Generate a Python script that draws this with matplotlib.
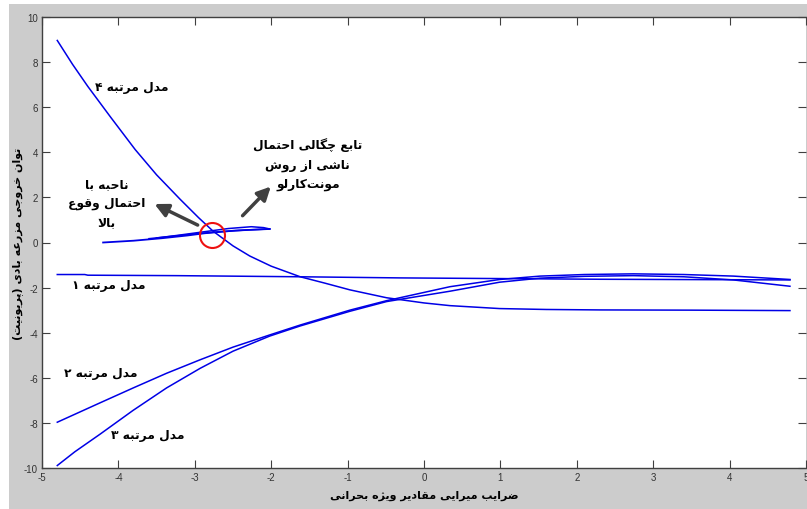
import matplotlib
matplotlib.use("Agg")
import matplotlib.pyplot as plt
from matplotlib.patches import Rectangle

plt.rcParams['axes.unicode_minus'] = False

# ---- data ----
m4_x = [-4.80, -4.60, -4.40, -4.10, -3.78, -3.50, -3.19, -2.95, -2.76, -2.50, -2.28, -2.00,
        -1.62, -1.30, -0.97, -0.49, 0.00, 0.34, 0.99, 1.60, 2.30, 3.50, 4.79]
m4_y = [8.96, 7.90, 6.92, 5.55, 4.12, 3.00, 1.91, 1.10, 0.50, -0.15, -0.60, -1.05,
        -1.52, -1.80, -2.10, -2.45, -2.68, -2.80, -2.93, -2.97, -2.99, -3.00, -3.02]

m1_x = [-4.80, -4.44, -4.40, -3.23, -1.62, -0.31, 2.30, 4.79]
m1_y = [-1.42, -1.42, -1.45, -1.47, -1.52, -1.57, -1.63, -1.66]

m2_x = [-4.80, -4.24, -3.80, -3.37, -2.93, -2.50, -2.02, -1.62, -0.97, -0.49, 0.34, 0.99,
        1.52, 2.10, 2.74, 3.40, 4.05, 4.79]
m2_y = [-7.97, -7.11, -6.44, -5.80, -5.20, -4.64, -4.10, -3.66, -3.00, -2.58, -1.96, -1.64,
        -1.49, -1.42, -1.39, -1.42, -1.49, -1.64]

m3_x = [-4.80, -4.57, -4.24, -3.81, -3.37, -2.93, -2.50, -2.02, -1.62, -0.97, -0.49, 0.34,
        0.99, 1.52, 2.10, 2.74, 3.40, 4.05, 4.79]
m3_y = [-9.89, -9.28, -8.50, -7.45, -6.45, -5.58, -4.82, -4.15, -3.70, -3.05, -2.62, -2.16,
        -1.76, -1.58, -1.50, -1.47, -1.52, -1.66, -1.94]

# Monte Carlo density lens
pdf1_x = [-4.20, -3.80, -3.43, -3.10, -2.87, -2.47, -2.02]
pdf1_y = [0.00, 0.08, 0.19, 0.31, 0.41, 0.53, 0.60]
pdf2_x = [-3.50, -3.22, -2.87, -2.56, -2.26, -2.10, -2.02]
pdf2_y = [0.20, 0.32, 0.48, 0.62, 0.70, 0.66, 0.60]
pdf3_x = [-3.60, -3.00, -2.70, -2.30, -2.02]
pdf3_y = [0.17, 0.38, 0.47, 0.56, 0.60]

x_ticks = [-5, -4, -3, -2, -1, 0, 1, 2, 3, 4, 5]
y_ticks = [-10, -8, -6, -4, -2, 0, 2, 4, 6, 8, 10]

# ---- minimal Persian shaping (no reshaper library available) ----
FORMS = {  # isolated, final, initial, medial
    'ا': ('\uFE8D', '\uFE8E', None, None),
    'ب': ('\uFE8F', '\uFE90', '\uFE91', '\uFE92'),
    'ت': ('\uFE95', '\uFE96', '\uFE97', '\uFE98'),
    'ج': ('\uFE9D', '\uFE9E', '\uFE9F', '\uFEA0'),
    'ح': ('\uFEA1', '\uFEA2', '\uFEA3', '\uFEA4'),
    'خ': ('\uFEA5', '\uFEA6', '\uFEA7', '\uFEA8'),
    'د': ('\uFEA9', '\uFEAA', None, None),
    'ر': ('\uFEAD', '\uFEAE', None, None),
    'ز': ('\uFEAF', '\uFEB0', None, None),
    'ش': ('\uFEB5', '\uFEB6', '\uFEB7', '\uFEB8'),
    'ض': ('\uFEBD', '\uFEBE', '\uFEBF', '\uFEC0'),
    'ع': ('\uFEC9', '\uFECA', '\uFECB', '\uFECC'),
    'ق': ('\uFED5', '\uFED6', '\uFED7', '\uFED8'),
    'ل': ('\uFEDD', '\uFEDE', '\uFEDF', '\uFEE0'),
    'م': ('\uFEE1', '\uFEE2', '\uFEE3', '\uFEE4'),
    'ن': ('\uFEE5', '\uFEE6', '\uFEE7', '\uFEE8'),
    'ه': ('\uFEE9', '\uFEEA', '\uFEEB', '\uFEEC'),
    'و': ('\uFEED', '\uFEEE', None, None),
    'پ': ('\uFB56', '\uFB57', '\uFB58', '\uFB59'),
    'چ': ('\uFB7A', '\uFB7B', '\uFB7C', '\uFB7D'),
    'ژ': ('\uFB8A', '\uFB8B', None, None),
    'ک': ('\uFB8E', '\uFB8F', '\uFB90', '\uFB91'),
    'گ': ('\uFB92', '\uFB93', '\uFB94', '\uFB95'),
    'ی': ('\uFBFC', '\uFBFD', '\uFBFE', '\uFBFF'),
}
MIRROR = {'(': ')', ')': '('}


def shape_line(s):
    out = []
    i = 0
    while i < len(s):
        c = s[i]
        prev = s[i - 1] if i > 0 else ''
        joins_prev = prev in FORMS and FORMS[prev][2] is not None
        if c == 'ل' and i + 1 < len(s) and s[i + 1] == 'ا':
            out.append('\uFEFC' if joins_prev else '\uFEFB')
            i += 2
            continue
        if c in FORMS:
            nxt = s[i + 1] if i + 1 < len(s) else ''
            joins_next = FORMS[c][2] is not None and nxt in FORMS
            iso, fin, ini, med = FORMS[c]
            if joins_prev and joins_next:
                out.append(med)
            elif joins_prev:
                out.append(fin)
            elif joins_next:
                out.append(ini)
            else:
                out.append(iso)
        elif c != '\u200c':
            out.append(MIRROR.get(c, c))
        i += 1
    return ''.join(reversed(out))


def fa(text):
    return '\n'.join(shape_line(line) for line in text.split('\n'))


# ---- figure ----
fig = plt.figure(figsize=(8.07, 5.10), dpi=100, facecolor='white')
fig.patches.append(Rectangle((9 / 807, 0), 1, 505 / 510, transform=fig.transFigure,
                             facecolor='#cccccc', edgecolor='none', zorder=-1))
ax = fig.add_axes([42 / 807, 41 / 510, 764 / 807, 451 / 510])
ax.set_facecolor('white')

c_line = '#0000e6'
ax.plot(m4_x, m4_y, color=c_line, lw=1.1)
ax.plot(m1_x, m1_y, color=c_line, lw=1.1)
ax.plot(m2_x, m2_y, color=c_line, lw=1.1)
ax.plot(m3_x, m3_y, color=c_line, lw=1.1)
ax.plot(pdf1_x, pdf1_y, color=c_line, lw=1.3)
ax.plot(pdf2_x, pdf2_y, color=c_line, lw=1.1)
ax.plot(pdf3_x, pdf3_y, color=c_line, lw=1.1)

# high-probability region marker
ax.plot([-2.77], [0.33], 'o', ms=18, mfc='none', mec='#ee1111', mew=1.5)

arrow_kw = dict(arrowstyle='-|>,head_length=0.8,head_width=0.4', color='#404040', lw=2.5)
ax.annotate('', xy=(-1.98, 2.57), xytext=(-2.40, 1.10), arrowprops=arrow_kw)
ax.annotate('', xy=(-3.56, 1.76), xytext=(-2.93, 0.72), arrowprops=arrow_kw)

txt_kw = dict(fontsize=8.8, fontweight='bold', family='DejaVu Sans', ha='center', va='center')
ax.text(-3.82, 6.92, fa('مدل مرتبه ۴'), **txt_kw)
ax.text(-4.12, -1.86, fa('مدل مرتبه ۱'), **txt_kw)
ax.text(-4.23, -5.76, fa('مدل مرتبه ۲'), **txt_kw)
ax.text(-3.61, -8.51, fa('مدل مرتبه ۳'), **txt_kw)
ax.text(-1.52, 3.50, fa('تابع چگالی احتمال\nناشی از روش\nمونت\u200cکارلو'), linespacing=1.6, **txt_kw)
ax.text(-4.15, 1.77, fa('ناحبه با\nاحتمال وقوع\nبالا'), linespacing=1.6, **txt_kw)

ax.set_xlim(-5, 5)
ax.set_ylim(-10, 10)
ax.set_xticks(x_ticks)
ax.set_yticks(y_ticks)
ax.tick_params(direction='in', length=6, width=0.8, color='#404040', labelsize=7,
               labelcolor='#333333', top=True, right=True, pad=3)
for lab in ax.get_xticklabels() + ax.get_yticklabels():
    lab.set_family('Liberation Sans')
for side in ['left', 'bottom', 'top']:
    ax.spines[side].set_color('#404040')
    ax.spines[side].set_linewidth(1.0)
ax.spines['right'].set_visible(False)

ax.set_xlabel(fa('ضرایب میرایی مقادیر ویژه بحرانی'), fontsize=8, fontweight='bold',
              family='DejaVu Sans', va='center')
ax.xaxis.set_label_coords(0.5, -0.060)
ax.set_ylabel(fa('توان خروجی مزرعه بادی (پریونیت)'), fontsize=8, fontweight='bold',
              family='DejaVu Sans', va='center')
ax.yaxis.set_label_coords(-0.0314, 0.5)

fig.savefig('out.png', dpi=100, facecolor=fig.get_facecolor())
